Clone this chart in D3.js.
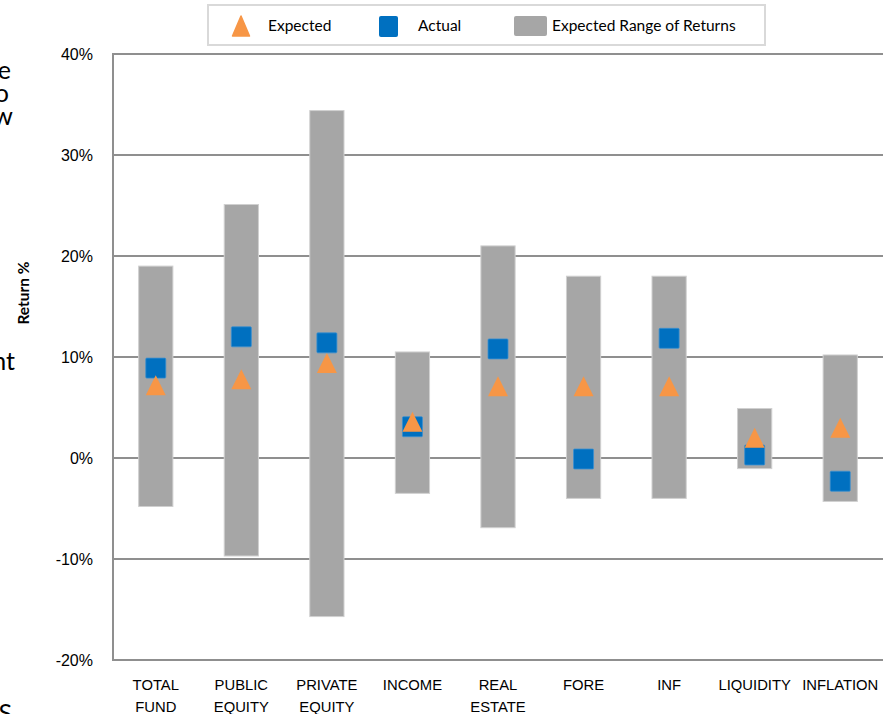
<!DOCTYPE html>
<html>
<head>
<meta charset="utf-8">
<script src="https://cdn.jsdelivr.net/npm/d3@7"></script>
<style>
  html, body { margin: 0; padding: 0; background: #fff; }
  svg { display: block; }
</style>
</head>
<body>
<svg id="chart" width="885" height="714"></svg>
<script>
const categories = [["TOTAL","FUND"],["PUBLIC","EQUITY"],["PRIVATE","EQUITY"],["INCOME"],["REAL","ESTATE"],["FORE"],["INF"],["LIQUIDITY"],["INFLATION"]];
const rangeHigh = [19.0, 25.1, 34.4, 10.5, 21.0, 18.0, 18.0, 4.9, 10.2];
const rangeLow  = [-4.8, -9.7, -15.7, -3.5, -6.9, -4.0, -4.0, -1.05, -4.3];
const expected  = [7.2, 7.8, 9.4, 3.6, 7.1, 7.1, 7.1, 2.0, 3.0];
const actual    = [8.9, 12.0, 11.4, 3.1, 10.8, -0.1, 11.85, 0.3, -2.3];
const yTicks    = [-20, -10, 0, 10, 20, 30, 40];
const legendLabels = ["Expected", "Actual", "Expected Range of Returns"];

(function () {
const svg = d3.select("#chart");
const pL = 113, pR = 883, pT = 54, pB = 660;

const x = d3.scaleBand().domain(d3.range(categories.length)).range([pL, pR]).padding(0);
const y = d3.scaleLinear().domain([-20, 40]).range([pB, pT]);

const GRID = "#8f8f8f", BAR = "#a6a6a6", ORANGE = "#f79646", BLUE = "#0070c0";

// left-edge clipped text fragments (from neighbouring content)
const frags = [["e", 11, 79], ["o", 9, 102], ["w", 13, 125], ["nt", 15, 370], ["S", 12, 722]];
svg.selectAll("text.frag").data(frags).enter().append("text")
  .attr("class","frag").attr("x", d => d[1]).attr("y", d => d[2])
  .attr("text-anchor","end").attr("font-family","Lato, sans-serif")
  .attr("font-size", 25).attr("fill","#000").text(d => d[0]);

// gridlines
svg.append("g").selectAll("line").data(yTicks).enter().append("line")
  .attr("x1", pL).attr("x2", pR)
  .attr("y1", d => y(d)).attr("y2", d => y(d))
  .attr("stroke", GRID).attr("stroke-width", 2);

// left axis line
svg.append("line").attr("x1", pL).attr("x2", pL).attr("y1", pT - 1).attr("y2", pB + 1)
  .attr("stroke", GRID).attr("stroke-width", 2);

// y tick labels
const yAxis = d3.axisLeft(y).tickValues(yTicks).tickFormat(d => d + "%").tickSize(0).tickPadding(20);
const ya = svg.append("g").attr("transform", `translate(${pL},0)`).call(yAxis);
ya.select(".domain").remove();
ya.selectAll("text").attr("font-family","Liberation Sans, Arial, sans-serif").attr("font-size", 16).attr("fill","#000");

// y axis title
svg.append("text").attr("transform", "translate(29,293) rotate(-90)")
  .attr("text-anchor","middle").attr("font-family","Lato, sans-serif").attr("font-weight","bold")
  .attr("font-size", 15.5).attr("fill","#000").text("Return %");

// range bars
const bw = x.bandwidth() * 0.4;
svg.append("g").selectAll("rect").data(categories).enter().append("rect")
  .attr("x", (d,i) => x(i) + x.bandwidth()/2 - bw/2)
  .attr("width", bw)
  .attr("y", (d,i) => y(rangeHigh[i]))
  .attr("height", (d,i) => y(rangeLow[i]) - y(rangeHigh[i]))
  .attr("fill", BAR).attr("stroke", "#d0d0d0").attr("stroke-width", 1);

// actual squares
const sq = 20;
svg.append("g").selectAll("rect").data(actual).enter().append("rect")
  .attr("x", (d,i) => x(i) + x.bandwidth()/2 - sq/2)
  .attr("y", d => y(d) - sq/2)
  .attr("width", sq).attr("height", sq).attr("rx", 1)
  .attr("fill", BLUE).attr("stroke", "#3a8fd0").attr("stroke-width", 0.8);

// expected triangles
const tri = (cx, cy, w, h) => `M${cx},${cy - h/2}L${cx + w/2},${cy + h/2}L${cx - w/2},${cy + h/2}Z`;
svg.append("g").selectAll("path").data(expected).enter().append("path")
  .attr("d", (d,i) => tri(x(i) + x.bandwidth()/2, y(d), 20, 20))
  .attr("fill", ORANGE);

// x labels
const xl = svg.append("g");
categories.forEach((lines, i) => {
  const cx = x(i) + x.bandwidth()/2;
  const t = xl.append("text").attr("x", cx).attr("y", 690)
    .attr("text-anchor","middle").attr("font-family","Liberation Sans, Arial, sans-serif")
    .attr("font-size", 14.8).attr("fill","#000");
  lines.forEach((ln, j) => {
    t.append("tspan").attr("x", cx).attr("dy", j === 0 ? 0 : 22).text(ln);
  });
});

// legend
const lg = svg.append("g");
lg.append("rect").attr("x", 208).attr("y", 5).attr("width", 557).attr("height", 40)
  .attr("fill", "#fff").attr("stroke", "#d9d9d9").attr("stroke-width", 2);
lg.append("path").attr("d", tri(241, 26, 17, 20)).attr("fill", ORANGE)
  .attr("stroke", ORANGE).attr("stroke-width", 1.5).attr("stroke-linejoin","round");
lg.append("rect").attr("x", 379).attr("y", 16).attr("width", 19).attr("height", 21).attr("rx", 2).attr("fill", BLUE);
lg.append("rect").attr("x", 514).attr("y", 16).attr("width", 33).attr("height", 20).attr("rx", 2).attr("fill", BAR);
const lx = [268, 418, 552];
lg.selectAll("text").data(legendLabels).enter().append("text")
  .attr("x", (d,i) => lx[i]).attr("y", 31)
  .attr("font-family","Lato, sans-serif").attr("font-size", 15.5).attr("fill","#000")
  .text(d => d);
})();
</script>
</body>
</html>
